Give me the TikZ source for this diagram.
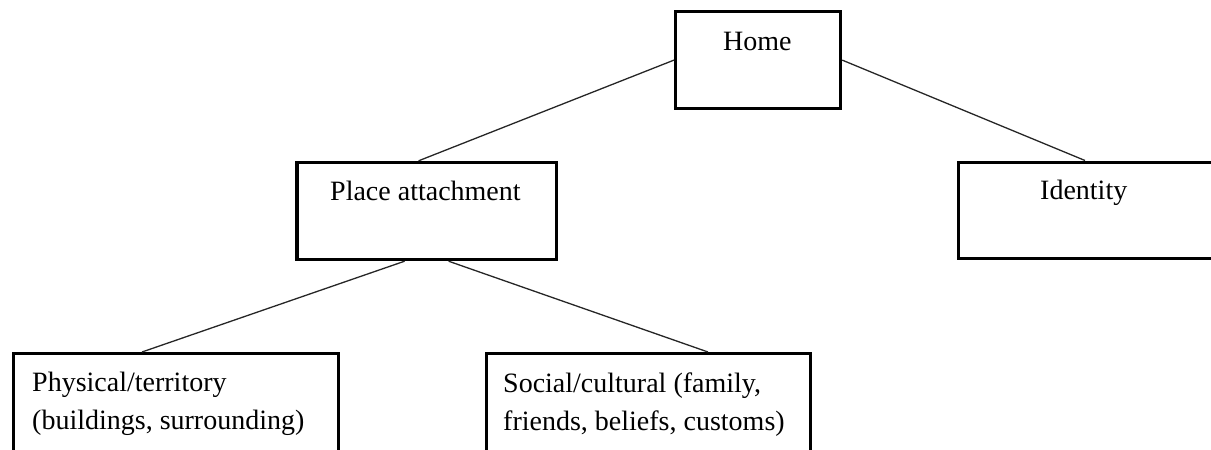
\documentclass[tikz,border=0pt]{standalone}
\usepackage{fontspec}
\setmainfont{Liberation Serif}
\begin{document}
\begin{tikzpicture}[x=1pt,y=-1pt,
  box/.style={draw=black, line width=3.2pt, anchor=north west, inner sep=0pt},
  lbl/.style={anchor=base west, inner sep=0pt, font=\fontsize{28}{38}\selectfont},
  con/.style={draw=black!85, line width=1.3pt}]
\useasboundingbox (0,0) rectangle (1211,450);
\node[box, minimum width=165pt, minimum height=97pt] (home) at (674,10) {};
\node[box, minimum width=259.4pt, minimum height=97.2pt] (place) at (295.3,160.8) {};
\node[box, minimum width=265pt, minimum height=96.5pt] (identity) at (957,160.5) {};
\node[box, minimum width=325pt, minimum height=110pt] (physical) at (12,352) {};
\node[box, minimum width=324.3pt, minimum height=110pt] (social) at (484.7,352) {};
\node[lbl] (thome) at (723,50) {Home};
\node[lbl] (tplace) at (330,200) {Place attachment};
\node[lbl] (tidentity) at (1040,199) {Identity};
\node[lbl, align=left] (tphysical) at (32,429) {Physical/territory\\(buildings, surrounding)};
\node[lbl, align=left] (tsocial) at (503,430) {Social/cultural (family,\\friends, beliefs, customs)};
\draw[con] (home.west) -- ([xshift=-8pt]place.north);
\draw[con] (home.east) -- ([xshift=128pt]identity.north west);
\draw[con] ([xshift=-22pt]place.south) -- ([xshift=130pt]physical.north west);
\draw[con] ([xshift=22pt]place.south) -- ([xshift=223.3pt]social.north west);
\end{tikzpicture}
\end{document}
